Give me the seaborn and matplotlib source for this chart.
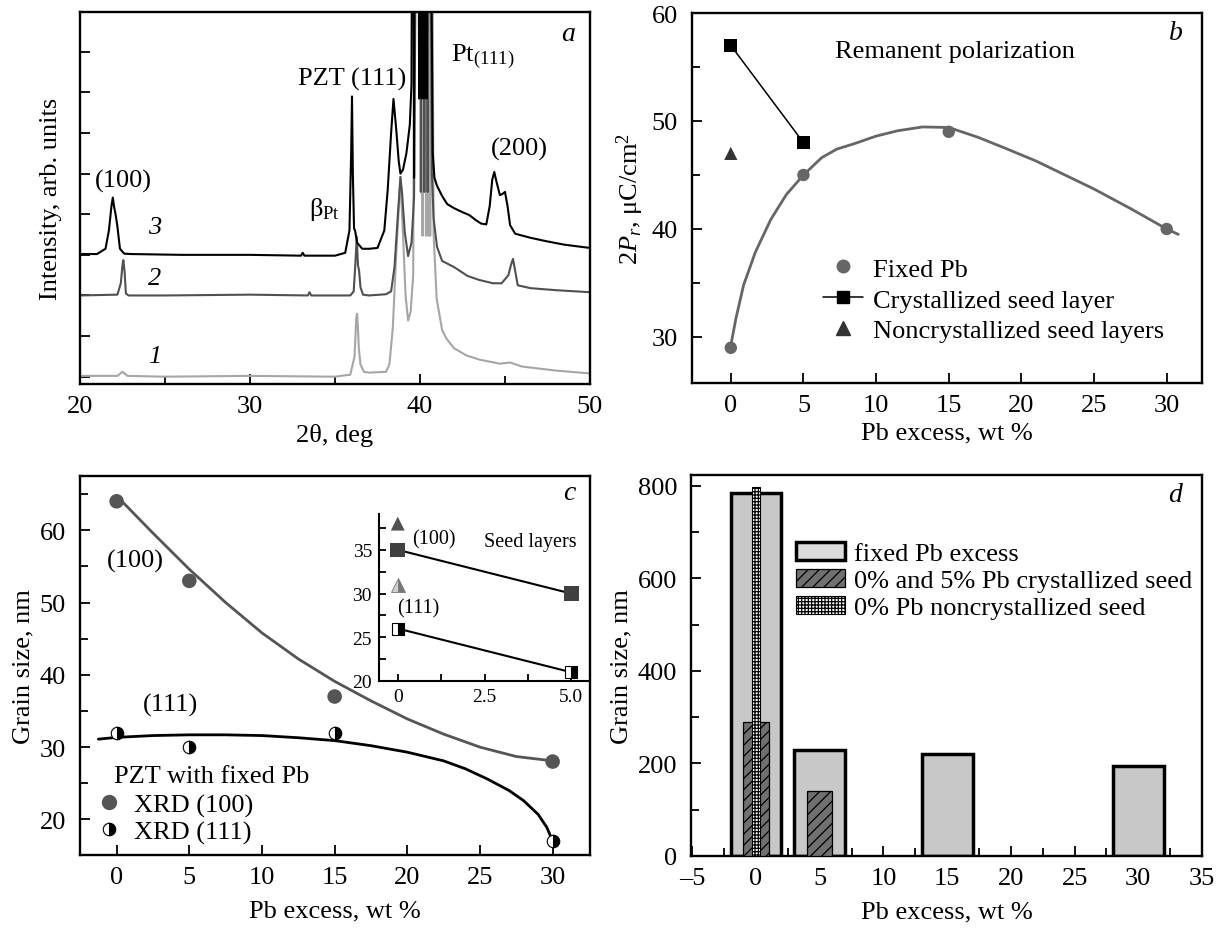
import matplotlib
matplotlib.use("Agg")
import matplotlib.pyplot as plt
import seaborn as sns
from matplotlib.ticker import MultipleLocator
from matplotlib.lines import Line2D
from matplotlib.patches import Patch

# ---- panel a: XRD patterns (offset units) ----
x1 = [20, 22.2, 22.5, 22.8, 25, 30, 35, 35.9, 36.15, 36.25, 36.3, 36.35, 36.4, 36.5, 36.7,
      37.0, 38.0, 38.2, 38.4, 38.6, 38.85, 39.0, 39.15, 39.3, 39.45, 39.6, 39.7, 40.1, 40.15,
      40.2, 40.3, 40.35, 40.45, 40.5, 40.55, 40.6, 40.7, 40.8, 40.98, 41.3, 41.57,
      42.0, 42.75, 43.5, 44.7, 45.3, 46.0, 48.0, 50.0]
y1 = [0.02, 0.02, 0.12, 0.02, 0.0, 0.02, 0.0, 0.05, 0.5, 1.45, 1.55, 1.2, 0.7, 0.3, 0.12,
      0.1, 0.12, 0.3, 1.2, 3.0, 4.9, 3.5, 2.0, 1.38, 1.6, 2.5, 14, 14, 3.47,
      14, 14, 3.47, 14, 3.47, 14, 3.47, 14, 3.5, 1.92, 1.15, 0.93,
      0.7, 0.52, 0.42, 0.32, 0.35, 0.25, 0.15, 0.08]

x2 = [20, 22.2, 22.4, 22.5, 22.55, 22.62, 22.7, 22.85, 25, 30, 33.4, 33.5, 33.6, 35.9, 36.1,
      36.2, 36.28, 36.35, 36.42, 36.5, 36.65, 37, 38.0, 38.3, 38.5, 38.7, 38.85, 38.95, 39.1,
      39.3, 39.5, 39.65, 39.8, 40.0, 40.05, 40.1, 40.2, 40.25, 40.3, 40.4, 40.45, 40.5,
      40.6, 40.7, 40.8, 41.0, 41.3, 42.0, 42.8, 43.5, 44.3, 44.8, 45.2, 45.35, 45.47,
      45.6, 45.75, 46.5, 48, 50]
y2 = [2.0, 2.02, 2.3, 2.75, 2.87, 2.6, 2.05, 2.0, 2.0, 2.02, 2.0, 2.08, 2.0, 2.0, 2.1,
      2.8, 3.44, 2.75, 2.6, 2.2, 2.02, 2.0, 2.03, 2.1, 2.7, 4.0, 4.92, 4.5, 3.57,
      2.97, 3.3, 4.4, 14, 14, 4.55, 14, 14, 4.55, 14, 14, 4.55, 14,
      14, 5.0, 3.9, 3.2, 2.85, 2.7, 2.48, 2.38, 2.3, 2.3, 2.5, 2.75, 2.9,
      2.6, 2.25, 2.18, 2.13, 2.08]

x3 = [20.0, 21.0, 21.5, 21.7, 21.85, 21.93, 22.0, 22.1, 22.2, 22.35, 22.6, 23.0, 26.0, 30.0,
      33.0, 33.1, 33.2, 35.0, 35.6, 35.85, 35.95, 36.0, 36.05, 36.12, 36.18, 36.3, 36.6, 37.0,
      37.5, 37.9, 38.1, 38.3, 38.44, 38.6, 38.75, 38.85, 39.0, 39.2, 39.4, 39.5, 39.55, 39.62,
      39.65, 39.68, 39.9, 39.95, 40.0, 40.05, 40.1, 40.15, 40.2, 40.25, 40.3, 40.35, 40.4, 40.45,
      40.6, 40.75, 40.85, 41.0, 41.3, 41.6, 42.0, 42.5, 42.9, 43.3, 43.6, 43.9, 44.1, 44.25,
      44.37, 44.5, 44.7, 44.85, 45.0, 45.15, 45.3, 45.6, 46.5, 47.5, 48.5, 50.0]
y3 = [3.02, 3.02, 3.15, 3.6, 4.2, 4.41, 4.2, 3.98, 3.7, 3.15, 3.03, 3.02, 3.0, 3.0,
      2.98, 3.05, 2.98, 2.98, 3.05, 3.6, 5.5, 6.9, 5.0, 3.65, 3.6, 3.3, 3.15, 3.15,
      3.17, 3.6, 4.6, 6.0, 6.84, 6.1, 5.3, 5.0, 5.1, 5.5, 6.2, 7.2, 14, 14,
      4.9, 14, 14, 6.85, 14, 14, 6.85, 14, 14, 6.85, 14, 14, 6.85, 14,
      14, 5.5, 4.9, 4.7, 4.45, 4.25, 4.15, 4.05, 3.98, 3.85, 3.77, 3.75, 4.2, 4.85,
      5.04, 4.8, 4.47, 4.5, 4.55, 4.2, 3.73, 3.52, 3.42, 3.33, 3.25, 3.17]

# ---- panel b: remanent polarization ----
fixed_pb = [0, 5, 15, 30]
pr_fixed = [29, 45, 49, 40]
pr_fit_x = [0, 0.35, 0.88, 1.69, 2.76, 3.83, 5, 6.25, 7.3, 8.5, 10, 11.5, 13.2, 15, 17,
            18.85, 21, 23, 25, 27.5, 30, 30.8]
pr_fit_y = [29.2, 31.7, 34.8, 37.85, 40.9, 43.2, 45.0, 46.6, 47.4, 47.9, 48.6, 49.1, 49.45,
            49.4, 48.5, 47.5, 46.3, 45.0, 43.7, 41.9, 40.0, 39.5]
cryst_x = [0, 5]
pr_cryst = [57, 48]
noncryst_x = [0]
pr_noncryst = [47]

# ---- panel c: grain size from XRD ----
gs100 = [64, 53, 37, 28]
gs111 = [32, 30, 32, 17]
fit100_x = [0, 2.5, 5, 7.5, 10, 12.5, 15, 17.5, 20, 22.5, 25, 27.5, 30]
fit100_y = [64.75, 59.6, 54.6, 50.0, 45.8, 42.2, 39.1, 36.4, 33.9, 31.8, 30.0, 28.7, 28.1]
fit111_x = [-1.26, 0, 2.5, 5, 7.5, 10, 12.5, 15, 17.5, 20, 22.5, 24, 25.5, 27, 28, 29, 29.6, 30]
fit111_y = [31.1, 31.35, 31.6, 31.7, 31.7, 31.6, 31.3, 30.9, 30.2, 29.3, 28.1, 27.0, 25.6,
            24.0, 22.6, 20.7, 18.9, 17.0]
seed_x = [0, 5]
seed100 = [35, 30]
seed111 = [26, 21]
seed_tri_x = [0]
seed_tri100 = [38]
seed_tri111 = [31]

# ---- panel d: grain size bars ----
bar_fixed_x = [0, 5, 15, 30]
bar_fixed_h = [785, 230, 220, 194]
bar_cryst_x = [0, 5]
bar_cryst_h = [290, 140]
bar_noncryst_x = [0]
bar_noncryst_h = [798]

FS = 19
sns.set_style("ticks")
plt.rcParams["font.family"] = ["Liberation Serif", "DejaVu Serif"]
plt.rcParams.update({
    "mathtext.fontset": "custom",
    "mathtext.rm": "Liberation Serif",
    "mathtext.it": "Liberation Serif:italic",
    "mathtext.bf": "Liberation Serif:bold",
    "font.size": FS,
    "axes.labelsize": FS,
    "xtick.labelsize": FS,
    "ytick.labelsize": FS,
    "axes.edgecolor": "black",
    "axes.linewidth": 1.7,
    "xtick.color": "black",
    "ytick.color": "black",
    "text.color": "black",
    "axes.labelcolor": "black",
    "xtick.direction": "in",
    "ytick.direction": "in",
    "xtick.major.size": 7,
    "ytick.major.size": 7,
    "xtick.minor.size": 6,
    "ytick.minor.size": 6,
    "xtick.major.width": 1.3,
    "ytick.major.width": 1.3,
    "xtick.minor.width": 1.3,
    "ytick.minor.width": 1.3,
    "xtick.major.pad": 8,
    "ytick.major.pad": 10,
    "hatch.linewidth": 0.9,
})

W, H = 1226, 929
fig = plt.figure(figsize=(W / 100, H / 100), dpi=100)


def box(left, top, right, bottom):
    return [left / W, 1 - bottom / H, (right - left) / W, (bottom - top) / H]


# ================= a =================
ax = fig.add_axes(box(80, 13, 590, 385))
for xs, ys, c in [(x1, y1, "#a6a6a6"), (x2, y2, "#505050"), (x3, y3, "black")]:
    sns.lineplot(x=xs, y=ys, ax=ax, color=c, lw=1.5, estimator=None, sort=False)
ax.set_xlim(20, 50)
ax.set_ylim(-0.18, 8.98)
ax.set_yticks(range(9))
ax.tick_params(axis="y", labelleft=False)
ax.xaxis.set_major_locator(MultipleLocator(10))
ax.xaxis.set_minor_locator(MultipleLocator(5))
ax.set_xlabel("2θ, deg")
ax.set_ylabel("Intensity, arb. units", labelpad=13)
ax.text(22.53, 4.84, "(100)", ha="center", va="center")
ax.text(34.35, 4.14, "β$_{\\rm Pt}$", ha="center", va="center")
ax.text(36.0, 7.34, "PZT (111)", ha="center", va="center")
ax.text(43.7, 7.9, "Pt$_{(111)}$", ha="center", va="center")
ax.text(45.86, 5.61, "(200)", ha="center", va="center")
for lab, yy in [("3", 3.69), ("2", 2.44), ("1", 0.5)]:
    ax.text(24.4, yy, lab, ha="center", va="center", style="italic")
ax.text(48.7, 8.44, "a", ha="center", va="center", style="italic", fontsize=FS + 1)

# ================= b =================
ax = fig.add_axes(box(692, 14, 1202, 384))
sns.lineplot(x=pr_fit_x, y=pr_fit_y, ax=ax, color="#666666", lw=2, estimator=None, sort=False)
sns.lineplot(x=cryst_x, y=pr_cryst, ax=ax, color="black", lw=1.1, estimator=None, sort=False)
sns.scatterplot(x=fixed_pb, y=pr_fixed, ax=ax, color="#666666", marker="o", s=80, edgecolor="none", zorder=3)
sns.scatterplot(x=cryst_x, y=pr_cryst, ax=ax, color="black", marker="s", s=85, edgecolor="none", zorder=3)
sns.scatterplot(x=noncryst_x, y=pr_noncryst, ax=ax, color="#333333", marker="^", s=90, edgecolor="none", zorder=3)
ax.set_xlim(-2.67, 32.43)
ax.set_ylim(25.74, 60)
ax.xaxis.set_major_locator(MultipleLocator(5))
ax.yaxis.set_major_locator(MultipleLocator(10))
ax.yaxis.set_minor_locator(MultipleLocator(5))
ax.set_xlabel("Pb excess, wt %")
ax.set_ylabel("2$P_r$, μC/cm$^2$")
ax.text(7.18, 56.5, "Remanent polarization", ha="left", va="center")
ax.text(30.64, 58.15, "b", ha="center", va="center", style="italic", fontsize=FS + 1)
hb = [Line2D([], [], ls="none", marker="o", color="#666666", ms=9),
      Line2D([], [], color="black", lw=1.1, marker="s", ms=8.5),
      Line2D([], [], ls="none", marker="^", color="#333333", ms=9.5)]
ax.legend(hb, ["Fixed Pb", "Crystallized seed layer", "Noncrystallized seed layers"],
          loc="upper left", bbox_to_anchor=(0.257, 0.34), frameon=False, borderpad=0,
          borderaxespad=0, handlelength=1.52, handletextpad=0.38, labelspacing=0.28)

# ================= c =================
ax = fig.add_axes(box(80, 477, 590, 856))
sns.lineplot(x=fit100_x, y=fit100_y, ax=ax, color="#555555", lw=2, estimator=None, sort=False)
sns.lineplot(x=fit111_x, y=fit111_y, ax=ax, color="black", lw=2, estimator=None, sort=False)
sns.scatterplot(x=fixed_pb, y=gs100, ax=ax, color="#555555", marker="o", s=110, edgecolor="none", zorder=3)
ax.plot(fixed_pb, gs111, ls="none", marker="o", ms=9, fillstyle="right", mfc="black",
        mfcalt="white", mec="black", mew=0.8, zorder=3)
ax.set_xlim(-2.52, 32.57)
ax.set_ylim(15.08, 67.5)
ax.xaxis.set_major_locator(MultipleLocator(5))
ax.yaxis.set_major_locator(MultipleLocator(10))
ax.yaxis.set_minor_locator(MultipleLocator(5))
ax.set_xlabel("Pb excess, wt %", labelpad=8)
ax.set_ylabel("Grain size, nm")
ax.text(1.29, 55.76, "(100)", ha="center", va="center")
ax.text(3.7, 35.94, "(111)", ha="center", va="center")
ax.text(-0.19, 26.04, "PZT with fixed Pb", ha="left", va="center")
ax.text(31.18, 65.2, "c", ha="center", va="center", style="italic", fontsize=FS + 1)
hc = [Line2D([], [], ls="none", marker="o", color="#555555", ms=10),
      Line2D([], [], ls="none", marker="o", ms=9, fillstyle="right", mfc="black",
             mfcalt="white", mec="black", mew=0.8)]
ax.legend(hc, ["XRD (100)", "XRD (111)"], loc="upper left", bbox_to_anchor=(0.031, 0.163),
          frameon=False, borderpad=0, borderaxespad=0, handlelength=1.0,
          handletextpad=0.44, labelspacing=0.1)

# inset
ins = fig.add_axes(box(379, 515, 590, 682))
ins.patch.set_alpha(0)
sns.lineplot(x=seed_x, y=seed100, ax=ins, color="black", lw=1.5, estimator=None, sort=False)
sns.lineplot(x=seed_x, y=seed111, ax=ins, color="black", lw=1.5, estimator=None, sort=False)
sns.scatterplot(x=seed_x, y=seed100, ax=ins, color="#404040", marker="s", s=110, edgecolor="none", zorder=3)
ins.plot(seed_x, seed111, ls="none", marker="s", ms=9, fillstyle="right", mfc="black",
         mfcalt="white", mec="black", mew=0.8, zorder=3)
sns.scatterplot(x=seed_tri_x, y=seed_tri100, ax=ins, color="#505050", marker="^", s=100, edgecolor="none", zorder=3)
ins.plot(seed_tri_x, seed_tri111, ls="none", marker="^", ms=10, fillstyle="right", mfc="#777777",
         mfcalt="#d0d0d0", mec="#777777", mew=0.6, zorder=3)
ins.set_xlim(-0.54, 5.54)
ins.set_ylim(20, 39.1)
ins.spines["top"].set_visible(False)
ins.spines["right"].set_visible(False)
ins.spines["left"].set_linewidth(1.5)
ins.spines["bottom"].set_linewidth(1.5)
ins.set_xticks([0, 2.5, 5.0])
ins.set_xticklabels(["0", "2.5", "5.0"])
ins.xaxis.set_minor_locator(MultipleLocator(1.25))
ins.yaxis.set_major_locator(MultipleLocator(5))
ins.yaxis.set_minor_locator(MultipleLocator(2.5))
ins.tick_params(labelsize=14, pad=5, length=5)
ins.tick_params(which="minor", length=5)
ins.text(1.03, 36.26, "(100)", ha="center", va="center", fontsize=14.5)
ins.text(0.58, 28.39, "(111)", ha="center", va="center", fontsize=14.5)
ins.text(2.48, 35.9, "Seed layers", ha="left", va="center", fontsize=14.5)

# ================= d =================
ax = fig.add_axes(box(691, 476, 1202, 857))
ax.bar(bar_fixed_x, bar_fixed_h, width=4, color="#c8c8c8", edgecolor="black", lw=2.5, zorder=2)
ax.bar(bar_cryst_x, bar_cryst_h, width=2, color="#707070", edgecolor="black", lw=0.9,
       hatch="///", zorder=3)
ax.bar(bar_noncryst_x, bar_noncryst_h, width=0.6, color="white", edgecolor="black", lw=0.8,
       hatch="+++++", zorder=4)
ax.set_xlim(-5.1, 35)
ax.set_ylim(0, 823)
ax.xaxis.set_major_locator(MultipleLocator(5))
ax.xaxis.set_minor_locator(MultipleLocator(2.5))
ax.yaxis.set_major_locator(MultipleLocator(200))
ax.yaxis.set_minor_locator(MultipleLocator(100))
ax.set_xticks(ax.get_xticks())
ax.set_xticklabels([f"{v:g}".replace("-", "\u2013") for v in ax.get_xticks()])
ax.set_xlim(-5.1, 35)
ax.set_xlabel("Pb excess, wt %", labelpad=8)
ax.set_ylabel("Grain size, nm")
ax.text(32.85, 780, "d", ha="center", va="center", style="italic", fontsize=FS + 1)
hd = [Patch(facecolor="#dcdcdc", edgecolor="black", lw=2.5),
      Patch(facecolor="#707070", edgecolor="black", lw=0.9, hatch="///"),
      Patch(facecolor="white", edgecolor="black", lw=0.8, hatch="+++++")]
ax.legend(hd, ["fixed Pb excess", "0% and 5% Pb crystallized seed", "0% Pb noncrystallized seed"],
          loc="upper left", bbox_to_anchor=(0.206, 0.825), frameon=False, borderpad=0,
          borderaxespad=0, handlelength=1.83, handletextpad=0.35, labelspacing=0.14)

fig.savefig("out.png", dpi=100)
